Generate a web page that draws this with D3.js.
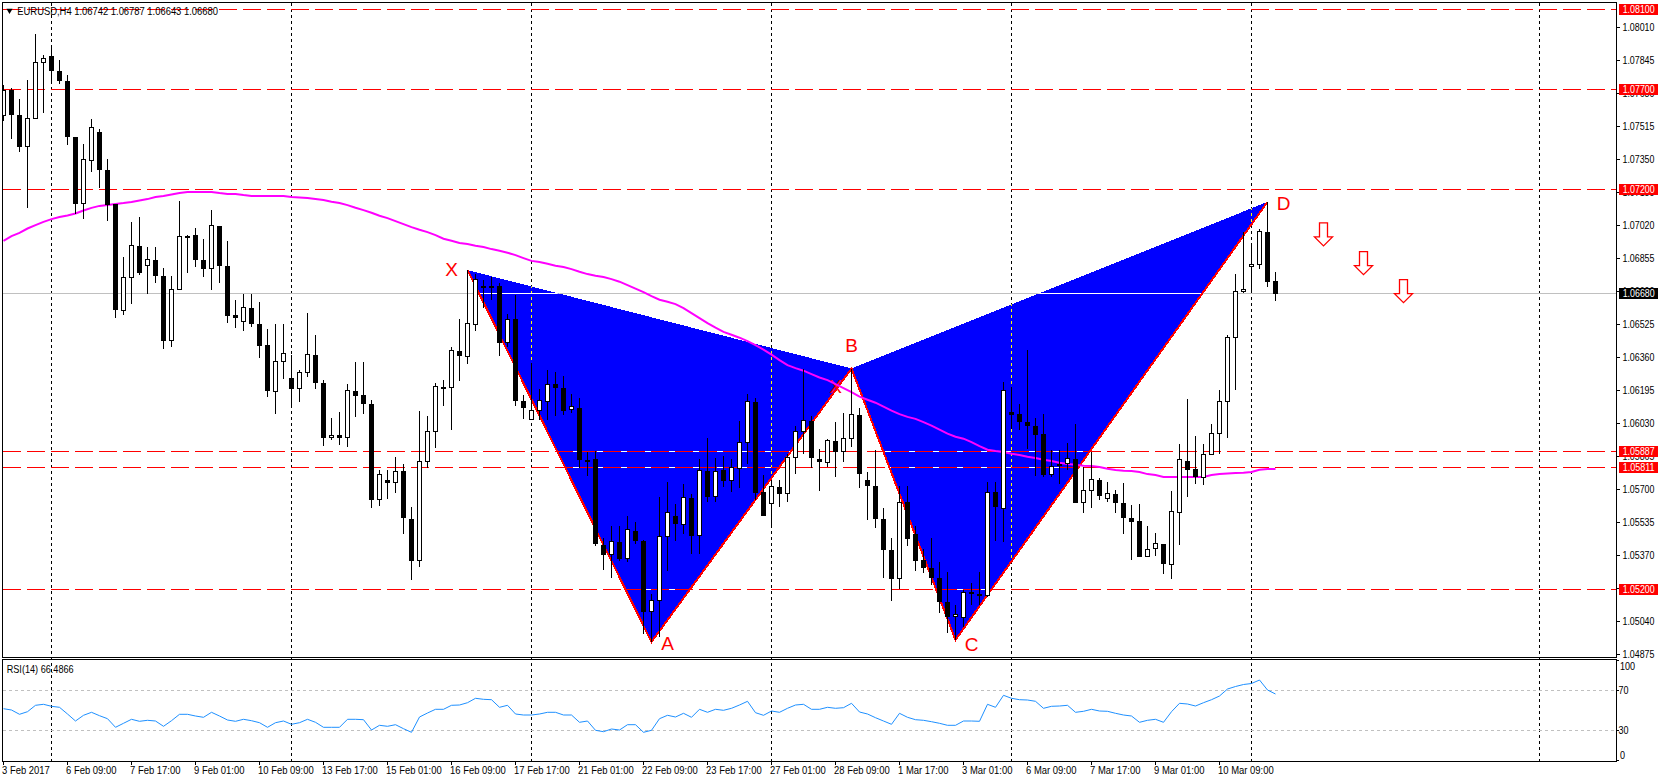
<!DOCTYPE html>
<html><head><meta charset="utf-8">
<script src="https://cdn.jsdelivr.net/npm/d3@7/dist/d3.min.js"></script>
<style>
html,body{margin:0;padding:0;background:#fff;overflow:hidden}
svg{display:block}
text{font-family:"Liberation Sans",Arial,sans-serif;font-size:11px;fill:#000}
</style></head><body><svg id="c" width="1659" height="782"></svg>
<script>
const symbolTitle="EURUSD,H4 1.06742 1.06787 1.06643 1.06680";
const rsiTitle="RSI(14) 66.4866";
const open=[1.07572,1.07697,1.07575,1.07416,1.07555,1.07835,1.07870,1.07795,1.07745,1.07465,
1.07130,1.07345,1.07490,1.07300,1.07127,1.06595,1.06760,1.06920,1.06820,1.06850,
1.06770,1.06443,1.06700,1.06968,1.06975,1.06850,1.06805,1.07020,1.06820,1.06572,
1.06540,1.06610,1.06530,1.06422,1.06190,1.06340,1.06260,1.06205,1.06285,1.06375,
1.06235,1.05958,1.05975,1.05960,1.06195,1.06175,1.06130,1.05648,1.05747,1.05733,
1.05792,1.05555,1.05343,1.05840,1.05990,1.06212,1.06210,1.06395,1.06365,1.06525,
1.06720,1.06717,1.06717,1.06435,1.06555,1.06142,1.06048,1.06093,1.06140,1.06227,
1.06210,1.06100,1.06110,1.05848,1.05855,1.05425,1.05375,1.05438,1.05355,1.05495,
1.05445,1.05088,1.05144,1.05463,1.05567,1.05523,1.05660,1.05468,1.05795,1.05663,
1.05797,1.05743,1.05803,1.05933,1.06140,1.05687,1.05628,1.05715,1.05680,1.05858,
1.05990,1.06045,1.05855,1.05835,1.05945,1.05890,1.05955,1.06075,1.05750,1.05720,
1.05555,1.05400,1.05253,1.05637,1.05477,1.05347,1.05310,1.05258,1.05140,1.05063,
1.05060,1.05187,1.05180,1.05168,1.05690,1.05603,1.06087,1.06077,1.06040,1.06020,
1.05977,1.05773,1.05827,1.05828,1.05855,1.05633,1.05693,1.05750,1.05653,1.05680,
1.05635,1.05560,1.05541,1.05363,1.05403,1.05430,1.05325,1.05583,1.05845,1.05802,
1.05758,1.05873,1.05978,1.06140,1.06458,1.06688,1.06813,1.06823,1.06990,1.06742];
const high=[1.07722,1.07710,1.07655,1.07750,1.07976,1.07871,1.07925,1.07847,1.07775,1.07465,
1.07430,1.07552,1.07502,1.07355,1.07130,1.06862,1.07036,1.07061,1.06912,1.06912,
1.06807,1.06767,1.07142,1.06971,1.07007,1.06952,1.07097,1.07020,1.06942,1.06647,
1.06677,1.06677,1.06637,1.06502,1.06527,1.06530,1.06371,1.06300,1.06585,1.06471,
1.06250,1.06060,1.06090,1.06230,1.06337,1.06337,1.06150,1.05800,1.05797,1.05865,
1.05827,1.05612,1.06095,1.06070,1.06235,1.06247,1.06415,1.06555,1.06797,1.06780,
1.06750,1.06763,1.06735,1.06580,1.06672,1.06172,1.06333,1.06202,1.06300,1.06290,
1.06270,1.06177,1.06157,1.05887,1.05893,1.05460,1.05520,1.05520,1.05567,1.05537,
1.05450,1.05177,1.05662,1.05740,1.05630,1.05727,1.05677,1.05855,1.05957,1.05860,
1.05867,1.05855,1.06042,1.06180,1.06157,1.05775,1.05747,1.05747,1.05877,1.06017,
1.06305,1.06068,1.05905,1.05955,1.06037,1.06082,1.06305,1.06107,1.05787,1.05897,
1.05607,1.05460,1.05717,1.05717,1.05517,1.05402,1.05460,1.05337,1.05287,1.05122,
1.05197,1.05235,1.05287,1.05737,1.05737,1.06238,1.06213,1.06127,1.06400,1.06060,
1.06080,1.05898,1.05897,1.05935,1.06027,1.05813,1.05888,1.05760,1.05740,1.05697,
1.05732,1.05622,1.05627,1.05517,1.05483,1.05430,1.05695,1.05930,1.06151,1.05970,
1.05927,1.06027,1.06197,1.06472,1.06777,1.06987,1.06933,1.07005,1.07138,1.06787];
const low=[1.07543,1.07455,1.07388,1.07110,1.07555,1.07583,1.07733,1.07730,1.07423,1.07080,
1.07053,1.07288,1.07206,1.07043,1.06558,1.06573,1.06628,1.06773,1.06678,1.06733,
1.06402,1.06413,1.06700,1.06783,1.06813,1.06763,1.06698,1.06733,1.06533,1.06508,
1.06493,1.06513,1.06358,1.06163,1.06079,1.06253,1.06113,1.06138,1.06263,1.06203,
1.05918,1.05950,1.05923,1.05913,1.06063,1.06078,1.05608,1.05618,1.05653,1.05683,
1.05478,1.05247,1.05313,1.05808,1.05908,1.06118,1.05998,1.06243,1.06328,1.06493,
1.06607,1.06647,1.06368,1.06413,1.06118,1.06052,1.06047,1.06050,1.06048,1.06068,
1.06073,1.06082,1.05808,1.05768,1.05417,1.05298,1.05258,1.05343,1.05338,1.05428,
1.04977,1.04938,1.04963,1.05292,1.05441,1.05477,1.05377,1.05377,1.05638,1.05638,
1.05712,1.05690,1.05707,1.05830,1.05647,1.05568,1.05513,1.05613,1.05638,1.05778,
1.05877,1.05808,1.05693,1.05813,1.05763,1.05838,1.05913,1.05708,1.05548,1.05507,
1.05258,1.05143,1.05202,1.05418,1.05293,1.05283,1.05222,1.05084,1.04985,1.04948,
1.05013,1.05122,1.05122,1.05163,1.05442,1.05438,1.06002,1.05998,1.05902,1.05767,
1.05763,1.05763,1.05728,1.05798,1.05633,1.05583,1.05608,1.05647,1.05637,1.05583,
1.05478,1.05348,1.05363,1.05363,1.05367,1.05277,1.05251,1.05423,1.05663,1.05727,
1.05722,1.05873,1.05877,1.05958,1.06197,1.06682,1.06682,1.06801,1.06713,1.06643];
const close=[1.07697,1.07575,1.07413,1.07555,1.07835,1.07855,1.07793,1.07743,1.07465,1.07128,
1.07350,1.07510,1.07298,1.07123,1.06598,1.06760,1.06920,1.06782,1.06850,1.06768,
1.06443,1.06700,1.06965,1.06968,1.06848,1.06803,1.07020,1.06818,1.06568,1.06558,
1.06610,1.06528,1.06418,1.06193,1.06340,1.06380,1.06205,1.06285,1.06375,1.06233,
1.05960,1.05970,1.05958,1.06195,1.06168,1.06128,1.05648,1.05775,1.05733,1.05790,
1.05558,1.05343,1.05840,1.05990,1.06215,1.06203,1.06395,1.06368,1.06530,1.06748,
1.06713,1.06710,1.06435,1.06550,1.06143,1.06108,1.06095,1.06145,1.06225,1.06208,
1.06093,1.06115,1.05848,1.05848,1.05428,1.05373,1.05438,1.05352,1.05498,1.05443,
1.05088,1.05144,1.05465,1.05585,1.05528,1.05660,1.05468,1.05795,1.05662,1.05790,
1.05742,1.05808,1.05935,1.06140,1.05682,1.05568,1.05715,1.05678,1.05860,1.05990,
1.06045,1.05858,1.05838,1.05945,1.05888,1.05955,1.06075,1.05778,1.05718,1.05553,
1.05398,1.05253,1.05635,1.05453,1.05343,1.05308,1.05258,1.05137,1.05063,1.05075,
1.05185,1.05178,1.05167,1.05685,1.05612,1.06195,1.06072,1.06038,1.06018,1.05972,
1.05771,1.05815,1.05827,1.05855,1.05633,1.05695,1.05750,1.05668,1.05680,1.05633,
1.05558,1.05538,1.05363,1.05400,1.05430,1.05328,1.05590,1.05850,1.05798,1.05763,
1.05875,1.05980,1.06140,1.06460,1.06690,1.06700,1.06825,1.06990,1.06738,1.06680];
const ma200=[1.06943,1.06967,1.06983,1.07005,1.07022,1.07038,1.07052,1.07062,1.07070,1.07080,
1.07095,1.07108,1.07118,1.07123,1.07128,1.07132,1.07138,1.07145,1.07152,1.07162,
1.07167,1.07175,1.07183,1.07187,1.07188,1.07188,1.07187,1.07182,1.07178,1.07177,
1.07172,1.07168,1.07168,1.07168,1.07167,1.07167,1.07162,1.07160,1.07157,1.07153,
1.07147,1.07139,1.07132,1.07122,1.07109,1.07097,1.07084,1.07069,1.07057,1.07042,
1.07027,1.07012,1.06999,1.06987,1.06972,1.06954,1.06944,1.06933,1.06927,1.06919,
1.06912,1.06902,1.06894,1.06884,1.06872,1.06857,1.06843,1.06837,1.06829,1.06819,
1.06812,1.06802,1.06789,1.06777,1.06769,1.06762,1.06752,1.06739,1.06722,1.06704,
1.06687,1.06667,1.06649,1.06639,1.06627,1.06607,1.06582,1.06557,1.06532,1.06509,
1.06488,1.06474,1.06459,1.06442,1.06422,1.06399,1.06374,1.06347,1.06322,1.06307,
1.06294,1.06277,1.06260,1.06247,1.06227,1.06207,1.06187,1.06164,1.06149,1.06134,
1.06114,1.06094,1.06077,1.06063,1.06053,1.06037,1.06019,1.05999,1.05979,1.05964,
1.05954,1.05937,1.05917,1.05899,1.05892,1.05887,1.05879,1.05872,1.05864,1.05857,
1.05849,1.05842,1.05834,1.05827,1.05824,1.05819,1.05817,1.05813,1.05804,1.05797,
1.05794,1.05792,1.05787,1.05777,1.05772,1.05763,1.05763,1.05763,1.05763,1.05763,
1.05763,1.05772,1.05777,1.05780,1.05782,1.05784,1.05788,1.05799,1.05803,1.05803];
const rsi=[51.8,50.5,46.2,48.8,55.2,56.2,54.2,53.2,46.5,39.5,
45.2,48.2,44.8,41.8,33.2,37.2,41.2,39.2,40.2,39.5,
34.2,39.8,46.2,46.2,44.5,43.2,48.2,44.5,40.5,39.2,
41.2,39.8,37.8,33.2,37.8,39.5,36.2,37.8,41.2,38.2,
33.2,33.2,33.2,41.2,41.2,40.8,30.5,35.2,34.2,35.8,
31.8,28.2,43.5,47.5,51.2,51.2,55.2,55.5,57.8,62.2,
61.2,60.8,53.2,55.2,46.5,45.5,45.5,46.5,48.2,48.2,
45.5,45.5,38.2,39.5,30.2,28.8,31.5,30.5,35.8,35.8,
28.2,30.2,41.8,45.2,43.5,47.2,43.2,51.2,48.2,51.2,
50.2,52.2,55.5,59.2,47.8,45.2,49.5,48.2,52.2,55.5,
56.2,51.2,51.2,53.2,52.2,52.8,57.2,48.5,46.5,42.8,
39.5,36.2,47.2,43.2,40.8,40.2,38.8,37.2,35.2,35.2,
39.5,39.5,39.2,56.2,53.2,65.2,62.2,60.8,60.5,59.2,
52.2,54.2,54.5,55.2,48.2,49.2,51.2,49.5,49.2,47.2,
45.5,44.5,38.2,40.2,41.2,38.2,48.8,57.2,56.5,54.5,
57.8,60.8,64.5,71.5,74,76,77,80.5,70.5,66.5];
const priceTicks=[1.08010,1.07845,1.07680,1.07515,1.07350,1.07185,1.07020,1.06855,1.06690,1.06525,1.06360,1.06195,1.06030,1.05865,1.05700,1.05535,1.05370,1.05205,1.05040,1.04875];
const levels=[1.08100,1.07700,1.07200,1.05887,1.05811,1.05200];
const lastPrice=1.06680;
const timeLabels=["3 Feb 2017","6 Feb 09:00","7 Feb 17:00","9 Feb 01:00","10 Feb 09:00","13 Feb 17:00","15 Feb 01:00","16 Feb 09:00","17 Feb 17:00","21 Feb 01:00","22 Feb 09:00","23 Feb 17:00","27 Feb 01:00","28 Feb 09:00","1 Mar 17:00","3 Mar 01:00","6 Mar 09:00","7 Mar 17:00","9 Mar 01:00","10 Mar 09:00"];
const timeLabelStep=8;
const gridBars=[6,36,66,96,126,156,192];
const patternBars=[58,81,106,119,158];
const patternPrices=[1.06797,1.04938,1.06305,1.04948,1.07138];
const arrowBars=[165,170,175];
const arrowPrices=[1.07033,1.06889,1.06749];
const letterNames=["X","A","B","C","D","X"];
const letterBars=[56,83,106,121,160,104];
const letterPrices=[1.06766,1.04896,1.06386,1.04893,1.07097,1.06181];
const rsiLevels=[70,30];
const rsiTicks=[100,70,30,0];

const L=2.5,R=1616.5,T=2.5,B=657.5,RT=659.5,RB=761.5;
const svg=d3.select("#c");
const x=d3.scaleLinear().domain([0,1]).range([3.5,11.5]);
const y=d3.scaleLinear().domain([1.081,1.0488]).range([9.5,653.5]);
const yr=d3.scaleLinear().domain([0,100]).range([760.5,660.5]);
const levelY=d=>Math.floor(y(d)-0.29)+0.5;
const crisp=s=>s.attr("shape-rendering","crispEdges");
const defs=svg.append("defs");
defs.append("clipPath").attr("id","plot").append("rect").attr("x",3).attr("y",3).attr("width",1613).attr("height",654);
const pt=i=>[x(patternBars[i]),y(patternPrices[i])];
const tris=[[0,1,2],[2,3,4]];
const triPath=t=>"M"+t.map(i=>pt(i).join(",")).join("L")+"Z";
defs.append("clipPath").attr("id","blue").selectAll("path").data(tris).join("path").attr("d",triPath);

// narrow the text horizontally so it takes the width of the original bitmap font
function fit(sel,w){ sel.each(function(){
  const t=d3.select(this), n=this.getComputedTextLength();
  const k=(typeof w==="function"?w(n):w)/n, X=+t.attr("x")||0, Y=+t.attr("y")||0;
  t.attr("x",0).attr("y",0).attr("transform",`translate(${X},${Y}) scale(${k},1)`);
});}

function layerLines(g,dark){
  g.selectAll("line.g").data(gridBars).join("line").attr("class","g")
   .attr("x1",d=>x(d)).attr("x2",d=>x(d)).attr("y1",3).attr("y2",762)
   .attr("stroke",dark?"#ffff00":"#000").attr("stroke-dasharray","3,3");
  g.append("line").attr("x1",3).attr("x2",1616).attr("y1",levelY(lastPrice)).attr("y2",levelY(lastPrice))
   .attr("stroke",dark?"#fff":"#c0c0c0");
  if(dark){
    g.selectAll("line.w").data(levels).join("line").attr("class","w")
     .attr("x1",3).attr("x2",1616).attr("y1",levelY).attr("y2",levelY).attr("stroke","#fff");
  }
  g.selectAll("line.r").data(levels).join("line").attr("class","r")
   .attr("x1",3).attr("x2",1616).attr("y1",levelY).attr("y2",levelY)
   .attr("stroke","#ff0000").attr("stroke-dasharray","18,6");
}
layerLines(crisp(svg.append("g")),false);
crisp(svg.append("g")).selectAll("path").data(tris).join("path").attr("d",triPath).attr("fill","#0000ff");
layerLines(crisp(svg.append("g").attr("clip-path","url(#blue)")),true);

// pattern edges
crisp(svg.append("path")).attr("d",d3.line()(patternBars.map((_,i)=>pt(i))))
  .attr("fill","none").attr("stroke","#ff0000").attr("stroke-width",2);
// letters
svg.append("g").selectAll("text").data(letterNames).join("text")
  .attr("x",(d,i)=>x(letterBars[i])).attr("y",(d,i)=>y(letterPrices[i]))
  .attr("text-anchor","middle").style("font-size","19px").style("fill","#ff0000").text(d=>d);
// arrows
svg.append("g").selectAll("path").data(arrowBars).join("path")
  .attr("transform",(d,i)=>`translate(${x(d)},${y(arrowPrices[i])})`)
  .attr("d","M-4,0H4V14H9L0,23L-9,14H-4Z")
  .attr("fill","#fff").attr("stroke","#ff0000").attr("stroke-width",1.3);
// MA
svg.append("path").attr("clip-path","url(#plot)")
  .attr("d",d3.line().x((d,i)=>x(i)).y(d=>y(d))(ma200))
  .attr("fill","none").attr("stroke","#ff00ff").attr("stroke-width",2);
// candles
const cg=crisp(svg.append("g").attr("clip-path","url(#plot)"));
const bars=d3.range(open.length);
cg.selectAll("line").data(bars).join("line")
  .attr("x1",i=>x(i)).attr("x2",i=>x(i)).attr("y1",i=>y(high[i])).attr("y2",i=>y(low[i])).attr("stroke","#000");
cg.selectAll("rect").data(bars).join("rect")
  .attr("x",i=>close[i]>open[i]?x(i)-2:x(i)-2.5)
  .attr("width",i=>close[i]>open[i]?4:5)
  .attr("y",i=>y(Math.max(open[i],close[i])))
  .attr("height",i=>Math.max(close[i]>open[i]?1:2,Math.abs(y(open[i])-y(close[i]))))
  .attr("fill",i=>close[i]>open[i]?"#fff":"#000")
  .attr("stroke",i=>close[i]>open[i]?"#000":"none");

// RSI
crisp(svg.append("g")).selectAll("line").data(rsiLevels).join("line")
  .attr("x1",3).attr("x2",1616).attr("y1",d=>yr(d)).attr("y2",d=>yr(d))
  .attr("stroke","#c0c0c0").attr("stroke-dasharray","3,3");
svg.append("path").attr("d",d3.line().x((d,i)=>x(i)).y(d=>yr(d))(rsi))
  .attr("fill","none").attr("stroke","#1e90ff").attr("stroke-width",1);

// frames
crisp(svg.append("rect")).attr("x",L).attr("y",T).attr("width",R-L).attr("height",B-T).attr("fill","none").attr("stroke","#000");
crisp(svg.append("rect")).attr("x",L).attr("y",RT).attr("width",R-L).attr("height",RB-RT).attr("fill","none").attr("stroke","#000");

// price axis
const ax=svg.append("g").attr("transform",`translate(${R},0)`).call(d3.axisRight(y).tickValues(priceTicks).tickSize(3).tickFormat(d3.format(".5f")).offset(0));
ax.select(".domain").remove();
crisp(ax.selectAll("line")).attr("stroke","#000");
ax.selectAll("text").attr("x",6).attr("dy","0.35em").style("fill","#000").call(fit,32);
// time axis
const timeBars=timeLabels.map((_,k)=>k*timeLabelStep);
const at=svg.append("g").attr("transform",`translate(0,${RB})`).call(d3.axisBottom(x).tickValues(timeBars).tickSize(3).tickFormat((d,k)=>timeLabels[k]).offset(0));
at.select(".domain").remove();
crisp(at.selectAll("line")).attr("stroke","#000");
at.selectAll("text").attr("text-anchor","start").attr("x",-1.5).attr("y",9).attr("dy","0.35em").call(fit,n=>n*0.86);
// rsi axis
const rsiLabelY={100:666,70:690.5,30:730.5,0:755};
const ar=svg.append("g").attr("transform",`translate(${R},0)`).call(d3.axisRight(yr).tickValues(rsiTicks).tickSize(2).tickFormat(d=>d).offset(0));
ar.select(".domain").remove();
crisp(ar.selectAll("line")).attr("stroke","#000");
ar.selectAll("text").attr("x",d=>(d===70||d===30)?2:3.5).attr("dy","0.35em").attr("y",d=>rsiLabelY[d]-yr(d)).call(fit,n=>n*0.82);
// level flags
const flags=levels.map(v=>({v,bg:"#ff0000"})).concat([{v:lastPrice,bg:"#000"}]);
const fg=svg.append("g").selectAll("g").data(flags).join("g").attr("transform",d=>`translate(1619,${levelY(d.v)-0.5})`);
crisp(fg.append("rect")).attr("x",0).attr("y",-5.5).attr("width",39).attr("height",11).attr("fill",d=>d.bg);
fg.append("text").attr("x",3.7).attr("dy","0.35em").style("fill","#fff").text(d=>d.v.toFixed(5)).call(fit,32);
// titles
svg.append("path").attr("d",d3.symbol(d3.symbolTriangle,16)()).attr("transform","translate(9.5,10.5) rotate(180)").attr("fill","#000");
svg.append("text").attr("x",17.3).attr("y",10.8).attr("dy","0.35em").text(symbolTitle).call(fit,201);
svg.append("text").attr("x",6.7).attr("y",668.7).attr("dy","0.35em").text(rsiTitle).call(fit,67);
</script></body></html>
